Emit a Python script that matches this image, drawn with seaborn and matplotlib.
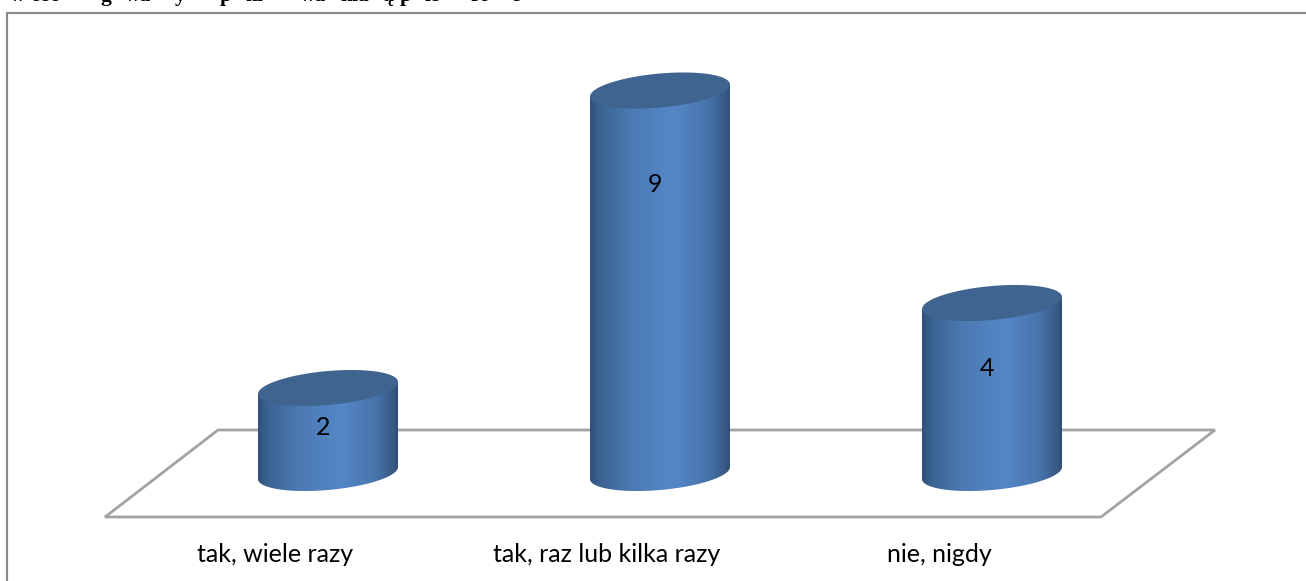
import numpy as np
import pandas as pd
import seaborn as sns
import matplotlib.pyplot as plt
from matplotlib.colors import LinearSegmentedColormap
from matplotlib.lines import Line2D
from matplotlib.patches import PathPatch, Polygon
from matplotlib.path import Path

categories = ["tak, wiele razy", "tak, raz lub kilka razy", "nie, nigdy"]
values = [2, 9, 4]
label_heights = [1.06, 6.8, 2.46]
title_bits = [("w oso", 10), ("g", 100), ("wa", 125), ("y", 175), ("p", 220),
              ("ni", 245), ("wa", 300), ("nia", 340), ("ą", 382), ("p", 400),
              ("ie", 425), ("ro", 470), ("e", 510)]

W, H = 1306, 581
PX_X = 332.0   # pixels for one category
PX_Y = 42.5    # pixels for one unit of value
X0, Y0 = 328, 473  # pixel position of first category, value 0
FLOOR_Y = 517

sns.set_theme(style="white")
plt.rcParams["font.family"] = ["Lato", "DejaVu Sans"]


def px(x, y):
    return (x - X0) / PX_X, (Y0 - y) / PX_Y


fig = plt.figure(figsize=(W / 100, H / 100), dpi=100)
ax = fig.add_axes([0, (H - FLOOR_Y) / H, 1, FLOOR_Y / H])

df = pd.DataFrame({"cat": categories, "val": values})
sns.barplot(data=df, x="cat", y="val", width=140 / PX_X, color="#4f81bd",
            errorbar=None, ax=ax, zorder=3)

ax.set_xlim(px(0, 0)[0], px(W, 0)[0])
ax.set_ylim(px(0, FLOOR_Y)[1], px(0, 0)[1])

# floor of the 3d chart
floor = [px(105, 517), px(218, 430), px(1215, 430), px(1101, 517)]
ax.add_patch(Polygon(floor, closed=True, fill=False, ec="#a3a3a3", lw=2,
                     clip_on=False, zorder=1))

# cylinders, built on top of the seaborn bars
body_cmap = LinearSegmentedColormap.from_list(
    "cyl", [(0, "#2f5079"), (0.06, "#3a6290"), (0.3, "#4c7bb3"), (0.6, "#5587c8"),
            (0.85, "#4773aa"), (0.96, "#385b87"), (1, "#304f78")])
t = np.linspace(0, 2 * np.pi, 200)
b = 17 / PX_Y
s = 6 / PX_Y

for i, bar in enumerate(list(ax.containers[0])):
    x0 = bar.get_x()
    a = bar.get_width() / 2
    cx = x0 + a
    top = bar.get_height()
    bar.set_visible(False)

    low = np.linspace(np.pi, 2 * np.pi, 100)
    xs = cx + a * np.cos(low)
    ys = b * np.sin(low) + s * np.cos(low)
    verts = np.column_stack([np.r_[xs, cx + a, cx - a], np.r_[ys, top + s, top - s]])
    clip = PathPatch(Path(np.vstack([verts, verts[0]]), closed=True), transform=ax.transData,
                     fc="none", ec="none")
    ax.add_patch(clip)
    img = ax.imshow(np.linspace(0, 1, 256).reshape(1, -1), cmap=body_cmap, aspect="auto",
                    extent=[x0, x0 + 2 * a, -1, top + 1], zorder=3)
    img.set_clip_path(clip)

    ax.fill(cx + a * np.cos(t), top + b * np.sin(t) + s * np.cos(t), color="#3e648f", lw=0, zorder=4)
    ax.text(cx - 5 / PX_X, label_heights[i], str(values[i]), ha="center", va="center",
            fontsize=18, color="black", zorder=5)

ax.set_xlim(px(0, 0)[0], px(W, 0)[0])
ax.set_ylim(px(0, FLOOR_Y)[1], px(0, 0)[1])

ax.set_xticks(np.arange(len(categories)) - 0.16)
ax.set_xticklabels(categories, fontsize=18, color="black")
ax.tick_params(axis="x", length=0, pad=19)
ax.set_yticks([])
ax.set_xlabel("")
ax.set_ylabel("")
sns.despine(ax=ax, left=True, bottom=True, top=True, right=True)
ax.patch.set_alpha(0)

# chart frame
fig.add_artist(Line2D([7 / W, 7 / W, 1], [0, 1 - 13 / H, 1 - 13 / H], color="#8a8a8a", lw=1.6))

# heading of the page, cut off by the top edge
for bit, x in title_bits:
    fig.text(x / W, 1 - 0.6 / H, bit, family="Liberation Serif", weight="bold", fontsize=15.5,
             ha="left", va="baseline", color="black")

fig.savefig("out.png", dpi=100)
